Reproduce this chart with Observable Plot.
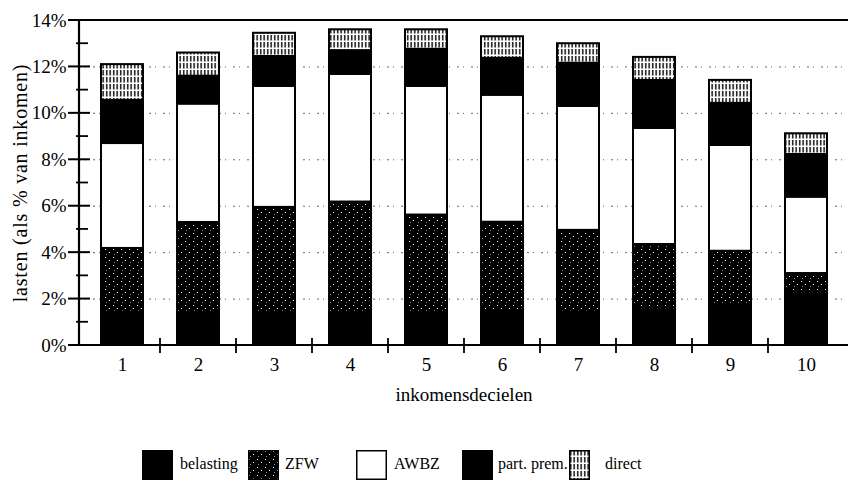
<!DOCTYPE html>
<html><head><meta charset="utf-8">
<script src="https://cdn.jsdelivr.net/npm/d3@7"></script>
<script src="https://cdn.jsdelivr.net/npm/@observablehq/plot@0.6"></script>
<style>
html,body{margin:0;padding:0;background:#fff;}
#wrap{position:relative;width:848px;height:484px;font-family:"Liberation Serif","Times New Roman",serif;color:#000;}
#legend{position:relative;width:848px;height:44px;}
.sw{position:absolute;top:10px;width:31px;height:30px;box-sizing:border-box;}
.lt{position:absolute;top:15px;font-family:"Liberation Serif","Times New Roman",serif;font-size:16px;line-height:18px;white-space:nowrap;}
</style></head>
<body><div id="wrap"><div id="chart"></div><div id="legend"></div></div>
<script>
// ---- data ----
const deciles = ["1","2","3","4","5","6","7","8","9","10"];
const seriesNames = ["belasting","ZFW","AWBZ","part. prem.","direct"];
const belasting = [1.43,1.38,1.38,1.39,1.38,1.48,1.44,1.60,1.72,2.24];
const zfw       = [2.75,3.92,4.57,4.79,4.24,3.83,3.52,2.75,2.34,0.86];
const awbz      = [4.52,5.10,5.21,5.50,5.54,5.47,5.34,5.00,4.56,3.29];
const partPrem  = [1.86,1.20,1.29,1.02,1.60,1.59,1.86,2.07,1.81,1.84];
const direct    = [1.54,1.00,1.00,0.90,0.84,0.93,0.84,0.99,0.99,0.89];
const yTicks = [0,2,4,6,8,10,12,14];
const yMinor = [1,3,5,7,9,11,13];
const fills = ["#000","url(#pat-zfw)","#fff","#000","url(#pat-direct)"];

const seriesValues = [belasting, zfw, awbz, partPrem, direct];
const rows = [];
deciles.forEach((d,i)=>seriesNames.forEach((s,j)=>rows.push({decile:d, series:s, value:seriesValues[j][i]})));

const FONT = '"Liberation Serif","Times New Roman",serif';

// custom tick marks drawn through Plot's scales
function axisTicks(index, scales, values, dim) {
  const {x, y} = scales;
  const g = d3.create("svg:g").attr("stroke","#000");
  const x0 = dim.marginLeft;
  const yb = y(0);
  g.append("line").attr("x1",x0).attr("x2",x0).attr("y1",y(14)).attr("y2",yb).attr("stroke-width",2.2);
  for (const t of yTicks) g.append("line").attr("x1",x0-11).attr("x2",x0+11).attr("y1",y(t)).attr("y2",y(t)).attr("stroke-width",2);
  for (const t of yMinor) g.append("line").attr("x1",x0-3).attr("x2",x0+9).attr("y1",y(t)).attr("y2",y(t)).attr("stroke-width",1.8);
  g.append("line").attr("x1",x0-11).attr("x2",dim.width).attr("y1",y(14)).attr("y2",y(14)).attr("stroke-width",2.2);
  g.append("line").attr("x1",x0).attr("x2",dim.width).attr("y1",yb).attr("y2",yb).attr("stroke-width",2);
  const bw = x.bandwidth ? x.bandwidth() : 0;
  const step = x(deciles[1]) - x(deciles[0]);
  for (let i = 0; i < deciles.length - 1; i++) {
    const bx = x(deciles[i]) + bw/2 + step/2;
    g.append("line").attr("x1",bx).attr("x2",bx).attr("y1",yb-7).attr("y2",yb+8).attr("stroke-width",1.8);
  }
  return g.node();
}

const chart = Plot.plot({
  width: 848, height: 440,
  marginLeft: 79, marginRight: 0, marginTop: 20, marginBottom: 95,
  style: {fontFamily: FONT, background: "#fff", color: "#000"},
  x: {domain: deciles, paddingInner: 0.45, paddingOuter: 0.225, axis: null},
  y: {domain: [0,14], axis: null},
  color: {type: "ordinal", domain: seriesNames, range: fills},
  marks: [
    Plot.ruleY(yTicks.slice(1,-1), {stroke:"#666", strokeWidth:1, strokeDasharray:"2,4,1,7"}),
    Plot.barY(rows, {x:"decile", y:"value", fill:"series", z:"series", order: seriesNames, stroke:"#000", strokeWidth:2}),
    axisTicks,
    Plot.axisY(yTicks, {anchor:"left", tickSize:0, tickPadding:13, tickFormat:d=>d+"%", fontSize:19, label:null}),
    Plot.axisX({tickSize:0, tickPadding:12, fontSize:19, label:null}),
    Plot.text(["inkomensdecielen"], {frameAnchor:"bottom", dy:55, fontSize:19}),
    Plot.text(["lasten (als % van inkomen)"], {frameAnchor:"left", textAnchor:"middle", rotate:-90, dx:-59, fontSize:20})
  ]
});

// letter spacing on the rotated title
d3.select(chart).selectAll("text").filter(function(){return this.textContent==="lasten (als % van inkomen)";}).attr("letter-spacing","0.8");

// patterns
const defs = d3.select(chart).insert("defs", ":first-child");
const pz = defs.append("pattern").attr("id","pat-zfw").attr("patternUnits","userSpaceOnUse").attr("width",8).attr("height",8);
pz.append("rect").attr("width",8).attr("height",8).attr("fill","#000");
pz.append("rect").attr("x",1).attr("y",1).attr("width",1).attr("height",1).attr("fill","#fff");
pz.append("rect").attr("x",5).attr("y",4).attr("width",1).attr("height",1).attr("fill","#fff");
pz.append("rect").attr("x",2).attr("y",6).attr("width",0.8).attr("height",0.8).attr("fill","#ddd");
const pd = defs.append("pattern").attr("id","pat-direct").attr("patternUnits","userSpaceOnUse").attr("width",3.5).attr("height",7);
pd.append("rect").attr("width",3.5).attr("height",7).attr("fill","#fff");
pd.append("rect").attr("x",1).attr("y",0).attr("width",1.4).attr("height",5.5).attr("fill","#000");

document.getElementById("chart").appendChild(chart);

// legend (HTML, below the SVG)
const legendPos = [[142,180],[248,285],[356,394],[462,498],[569,605]];
const legendW = [31,31,31,31,21];
const lg = document.getElementById("legend");
const defsHtml = d3.select(chart).select("defs").html();
seriesNames.forEach((s,j)=>{
  const sw = document.createElement("div");
  sw.className = "sw";
  sw.style.left = legendPos[j][0]+"px";
  sw.style.width = legendW[j]+"px";
  const svgNS = "http://www.w3.org/2000/svg";
  const svg = document.createElementNS(svgNS,"svg");
  svg.setAttribute("width",legendW[j]); svg.setAttribute("height",30);
  svg.innerHTML = `<defs>${defsHtml.replace(/pat-/g,"lg"+j+"-")}</defs>`;
  const r = document.createElementNS(svgNS,"rect");
  r.setAttribute("x",0.75); r.setAttribute("y",0.75);
  r.setAttribute("width",legendW[j]-1.5); r.setAttribute("height",28.5);
  r.setAttribute("fill", fills[j].replace("#pat-","#lg"+j+"-"));
  r.setAttribute("stroke","#000"); r.setAttribute("stroke-width",1.5);
  svg.appendChild(r);
  sw.appendChild(svg);
  lg.appendChild(sw);
  const t = document.createElement("div");
  t.className = "lt";
  t.style.left = legendPos[j][1]+"px";
  t.textContent = s;
  lg.appendChild(t);
});
</script>
</body></html>
